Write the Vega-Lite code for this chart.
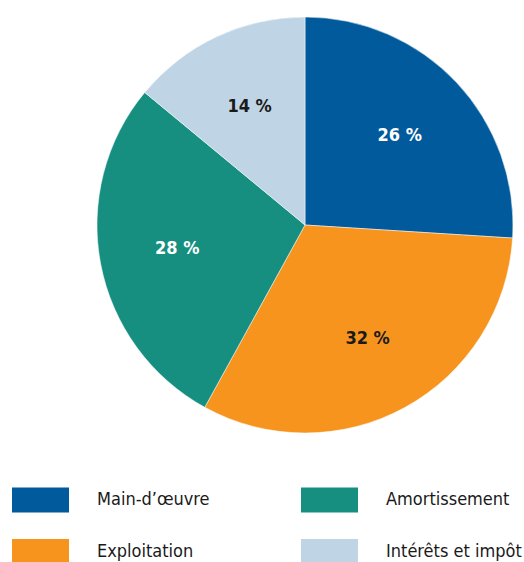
{
  "$schema": "https://vega.github.io/schema/vega-lite/v6.json",
  "width": 416,
  "height": 416,
  "autosize": {"type": "none"},
  "padding": {"left": 97, "top": 17, "right": 11, "bottom": 129},
  "background": "white",
  "config": {"view": {"stroke": null}},
  "data": {
    "values": [
      {"category": "Main-d’œuvre", "value": 26, "label": "26 %", "idx": 1},
      {"category": "Exploitation", "value": 32, "label": "32 %", "idx": 2},
      {"category": "Amortissement", "value": 28, "label": "28 %", "idx": 3},
      {"category": "Intérêts et impôt", "value": 14, "label": "14 %", "idx": 4}
    ]
  },
  "encoding": {
    "theta": {"field": "value", "type": "quantitative", "stack": true},
    "order": {"field": "idx", "type": "quantitative"}
  },
  "layer": [
    {
      "mark": {"type": "arc", "stroke": "white", "strokeWidth": 0.5},
      "encoding": {
        "color": {
          "field": "category",
          "type": "nominal",
          "scale": {
            "domain": ["Main-d’œuvre", "Amortissement", "Exploitation", "Intérêts et impôt"],
            "range": ["#005a9b", "#168f80", "#f7941e", "#bfd4e4"]
          },
          "legend": {
            "title": null,
            "orient": "none",
            "legendX": -85,
            "legendY": 454,
            "direction": "horizontal",
            "columns": 2,
            "symbolType": "M-1,-0.4386H1V0.4386H-1Z",
            "symbolSize": 3249,
            "symbolStrokeWidth": 0,
            "symbolOpacity": 1,
            "labelFont": "DejaVu Sans Condensed",
            "labelFontSize": 18,
            "labelColor": "#1a1a1a",
            "labelOffset": 28,
            "labelLimit": 300,
            "columnPadding": 91,
            "rowPadding": 10
          }
        }
      }
    },
    {
      "mark": {"type": "text", "radius": 130, "font": "DejaVu Sans Condensed", "fontSize": 18, "fontWeight": "bold"},
      "encoding": {
        "text": {"field": "label", "type": "nominal"},
        "color": {
          "condition": {"test": "datum.idx == 1 || datum.idx == 3", "value": "white"},
          "value": "#1a1a1a"
        }
      }
    }
  ]
}
